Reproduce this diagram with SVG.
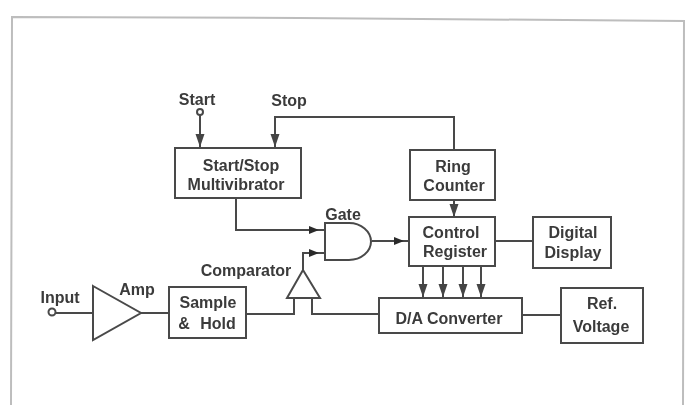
<svg xmlns="http://www.w3.org/2000/svg" width="689" height="405" viewBox="0 0 689 405">
<style>
text{font-family:"Liberation Sans",Arial,sans-serif;font-weight:bold;font-size:16px;fill:#3a3a3a;text-anchor:middle}
.b{fill:#fff;stroke:#4a4a4a;stroke-width:2}
.c{fill:none;stroke:#4a4a4a;stroke-width:2}
.f{fill:none;stroke:#bdbdbd;stroke-width:2}
</style>
<defs>
<marker id="a" viewBox="0 0 13 10" refX="13" refY="5" markerWidth="13" markerHeight="10" markerUnits="userSpaceOnUse" orient="auto"><path d="M0 0.500L13 5L0 9.500z" fill="#444"/></marker>
<marker id="d" viewBox="0 0 15 10" refX="15" refY="5" markerWidth="15" markerHeight="10" markerUnits="userSpaceOnUse" orient="auto"><path d="M0 1L10 5L0 9z" fill="#2c2c2c"/></marker>
<filter id="s" x="-5%" y="-5%" width="110%" height="110%"><feGaussianBlur stdDeviation="0.6"/></filter>
</defs>
<rect width="689" height="405" fill="#fff"/>
<g filter="url(#s)">
<path class="f" d="M11 405L12 17L300 18L684 21L683 405"/>
<g id="connectors">
<path class="c" d="M54 313H93"/>
<path class="c" d="M141 313H168"/>
<path class="c" d="M246 314H294V298"/>
<path class="c" d="M312 298V314H378"/>
<path class="c" d="M200 115V147" marker-end="url(#a)"/>
<path class="c" d="M454 150V117H275V147" marker-end="url(#a)"/>
<path class="c" d="M236 198V230H324" marker-end="url(#d)"/>
<path class="c" d="M303 270V253H324" marker-end="url(#d)"/>
<path class="c" d="M372 241H409" marker-end="url(#d)"/>
<path class="c" d="M454 200V217" marker-end="url(#a)"/>
<path class="c" d="M495 241H532"/>
<path class="c" d="M423 266V297" marker-end="url(#a)"/>
<path class="c" d="M443 266V297" marker-end="url(#a)"/>
<path class="c" d="M463 266V297" marker-end="url(#a)"/>
<path class="c" d="M481 266V297" marker-end="url(#a)"/>
<path class="c" d="M522 315H560"/>
</g>
<g id="start"><circle class="b" cx="200" cy="112" r="3"/><text x="197" y="105">Start</text></g>
<g id="stop"><text x="289" y="106">Stop</text></g>
<g id="input"><circle class="b" cx="52" cy="312" r="3.500"/><text x="60" y="303">Input</text></g>
<g id="amp"><path class="b" d="M93 286L141 313L93 340z"/><text x="137" y="295">Amp</text></g>
<g id="sample-hold"><rect class="b" x="169" y="287" width="77" height="51"/><text x="208" y="308">Sample</text><text y="329"><tspan x="184">&amp;</tspan><tspan x="218">Hold</tspan></text></g>
<g id="comparator"><path class="b" d="M303 270L320 298H287z"/><text x="246" y="276">Comparator</text></g>
<g id="gate"><path class="b" d="M325 223H349A22 18.500 0 0 1 349 260H325z"/><text x="343" y="220">Gate</text></g>
<g id="start-stop"><rect class="b" x="175" y="148" width="126" height="50"/><text x="241" y="171">Start/Stop</text><text x="236" y="190">Multivibrator</text></g>
<g id="ring-counter"><rect class="b" x="410" y="150" width="85" height="50"/><text x="453" y="172">Ring</text><text x="454" y="191">Counter</text></g>
<g id="control-register"><rect class="b" x="409" y="217" width="86" height="49"/><text x="451" y="238">Control</text><text x="455" y="257">Register</text></g>
<g id="digital-display"><rect class="b" x="533" y="217" width="78" height="51"/><text x="573" y="238">Digital</text><text x="573" y="258">Display</text></g>
<g id="da-converter"><rect class="b" x="379" y="298" width="143" height="35"/><text x="449" y="324">D/A Converter</text></g>
<g id="ref-voltage"><rect class="b" x="561" y="288" width="82" height="55"/><text x="602" y="309">Ref.</text><text x="601" y="332">Voltage</text></g>
</g>
</svg>
